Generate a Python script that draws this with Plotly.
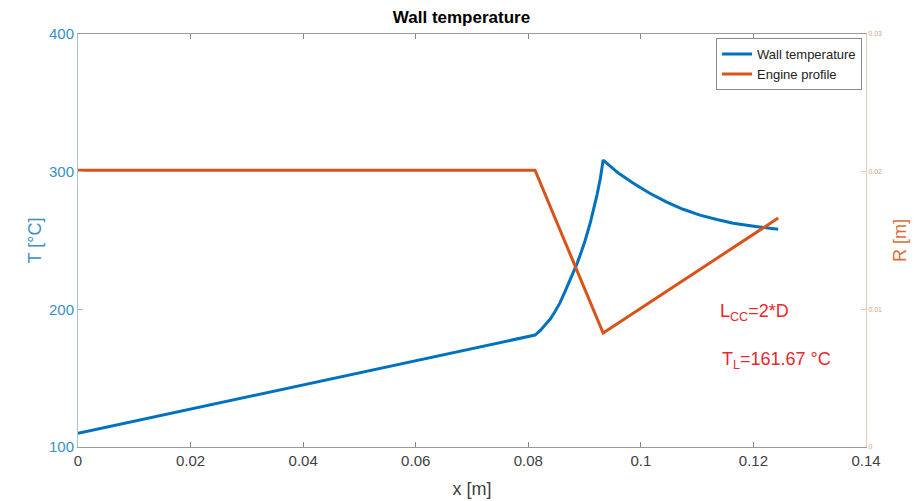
import plotly.graph_objects as go

# Wall temperature along the engine axis
x_wall = [0.0, 0.0812, 0.0821, 0.0830, 0.0839, 0.0847, 0.0856, 0.0865, 0.0876, 0.0887,
          0.0894, 0.0901, 0.0910, 0.0916, 0.0922, 0.0928, 0.0933,
          0.0960, 0.0986, 0.1015, 0.1046, 0.1075, 0.1105, 0.1135, 0.1164, 0.1204, 0.1244]
t_wall = [110.0, 181.3, 184.5, 188.6, 193.0, 198.0, 204.5, 212.6, 222.5, 233.6,
          241.5, 250.0, 262.7, 272.0, 283.0, 295.0, 308.4,
          299.0, 291.7, 284.5, 277.9, 272.7, 268.4, 265.2, 262.6, 260.2, 258.2]

# Engine radius profile (chamber, convergent, divergent)
x_prof = [0.0, 0.0812, 0.0933, 0.1244]
r_prof = [0.0201, 0.0201, 0.00828, 0.01663]

x_ticks = [0, 0.02, 0.04, 0.06, 0.08, 0.1, 0.12, 0.14]
x_tick_text = ["0", "0.02", "0.04", "0.06", "0.08", "0.1", "0.12", "0.14"]
t_ticks = [100, 200, 300, 400]
r_ticks = [0, 0.01, 0.02, 0.03]
r_tick_text = ["0", "0.01", "0.02", "0.03"]

BLUE = "#0072BD"
ORANGE = "#D95319"
FONT = "Liberation Sans, Arial, sans-serif"

fig = go.Figure()
fig.add_trace(go.Scatter(x=x_wall, y=t_wall, mode="lines", name="Wall temperature",
                         line=dict(color=BLUE, width=3), yaxis="y"))
fig.add_trace(go.Scatter(x=x_prof, y=r_prof, mode="lines", name="Engine profile",
                         line=dict(color=ORANGE, width=3), yaxis="y2"))

fig.update_layout(
    width=923, height=501,
    margin=dict(l=78, r=57, t=34, b=54),
    plot_bgcolor="white", paper_bgcolor="white",
    font=dict(family=FONT),
    title=dict(text="<b>Wall temperature</b>", x=0.5, xanchor="center", y=0.965, yanchor="middle",
               font=dict(size=17, color="#000000")),
    showlegend=True,
    legend=dict(x=0.995, xanchor="right", y=0.99, yanchor="top",
                bordercolor="#8a8a8a", borderwidth=1, bgcolor="white",
                font=dict(size=13, color="#222222"),
                tracegroupgap=0, itemwidth=30),
    xaxis=dict(range=[0, 0.14], tickvals=x_ticks, ticktext=x_tick_text,
               ticks="inside", ticklen=5, tickcolor="#888888",
               showline=True, linecolor="#9a9a9a", linewidth=1, mirror="ticks",
               showgrid=False, zeroline=False, automargin=False,
               tickfont=dict(size=15, color="#404040"),
               title=dict(text="x [m]", font=dict(size=18, color="#404040"), standoff=14)),
    yaxis=dict(range=[100, 400], tickvals=t_ticks,
               ticks="inside", ticklen=5, tickcolor="#9ab8c8",
               showline=True, linecolor="#a9c4d0", linewidth=1,
               showgrid=False, zeroline=False, automargin=False,
               tickfont=dict(size=15, color="#3a8fc4"),
               title=dict(text="T [°C]", font=dict(size=18, color="#3a8fc4"), standoff=2)),
    yaxis2=dict(range=[0, 0.03], tickvals=r_ticks, ticktext=r_tick_text,
                overlaying="y", side="right",
                ticks="inside", ticklen=5, tickcolor="#e2c7b4",
                showline=True, linecolor="#e6cdbb", linewidth=1,
                showgrid=False, zeroline=False, automargin=False,
                tickfont=dict(size=7, color="#d9a27f"),
                title=dict(text="R [m]", font=dict(size=18, color="#d9703a"), standoff=12)),
    annotations=[
        dict(x=0.1137, y=198, xref="x", yref="y", xanchor="left", yanchor="middle",
             text="L<sub>CC</sub>=2*D", showarrow=False,
             font=dict(size=18, color="#e8282b", family=FONT)),
        dict(x=0.1141, y=163, xref="x", yref="y", xanchor="left", yanchor="middle",
             text="T<sub>L</sub>=161.67 °C", showarrow=False,
             font=dict(size=18, color="#e8282b", family=FONT)),
    ],
)

fig.write_html("out.html")
